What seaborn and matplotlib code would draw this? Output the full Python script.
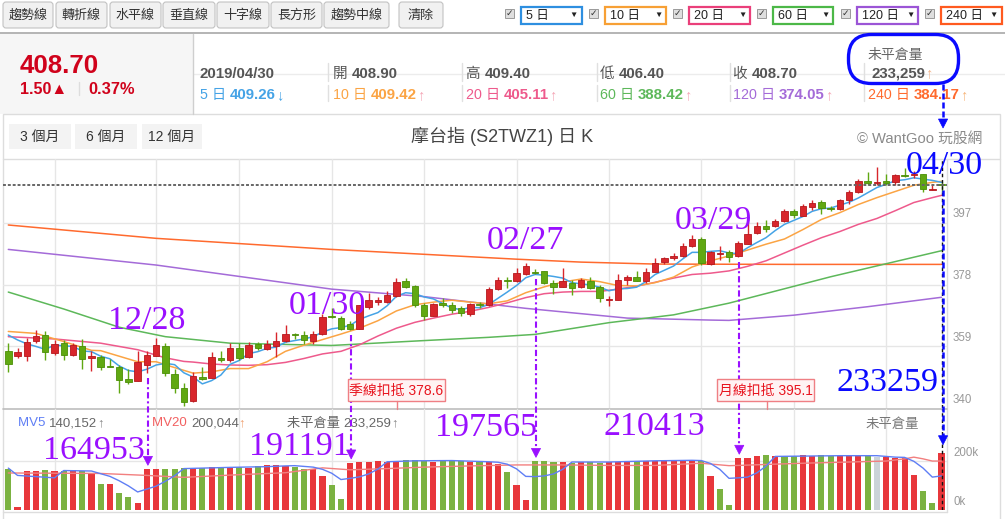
import numpy as np
import matplotlib
matplotlib.use("Agg")
import matplotlib.pyplot as plt
from matplotlib.patches import Rectangle, FancyBboxPatch, Polygon
import seaborn as sns

# ------------------------------------------------------------------ data
# 摩台指 (S2TWZ1) daily candles, index 0 .. 101 (last = 2019/04/30)
opens = [357.7, 356.0, 356.0, 360.6, 362.6, 357.0, 360.0, 356.3, 359.2, 355.4,
         355.7, 353.1, 352.7, 349.1, 348.5, 353.4, 356.2, 359.2, 350.6, 346.2,
         342.1, 349.6, 349.3, 355.4, 354.7, 358.5, 355.7, 359.7, 358.2, 359.0,
         360.8, 362.8, 362.4, 360.7, 362.9, 368.5, 367.6, 365.8, 364.5, 371.2,
         372.5, 372.5, 374.6, 379.1, 377.6, 371.7, 368.5, 372.4, 371.7, 370.7,
         369.0, 372.0, 371.6, 376.7, 379.2, 379.0, 381.2, 382.0, 382.2, 378.4,
         377.4, 378.4, 377.2, 379.2, 377.4, 373.2, 373.3, 379.3, 380.2, 379.0,
         382.0, 384.8, 386.1, 386.8, 389.9, 392.0, 384.3, 387.3, 388.1, 386.9,
         390.6, 393.7, 396.0, 396.0, 397.5, 400.6, 399.1, 401.9, 403.4, 401.6,
         401.1, 403.9, 406.3, 409.8, 409.2, 409.8, 409.6, 411.8, 411.8, 412.1,
         407.0, 408.9]
highs = [360.2, 358.5, 361.6, 364.1, 363.8, 361.1, 361.1, 360.2, 361.3, 357.5,
         356.5, 355.1, 353.4, 352.2, 357.5, 357.5, 361.6, 360.2, 352.2, 347.7,
         351.0, 352.6, 357.3, 357.7, 360.2, 360.0, 360.3, 360.5, 361.0, 363.3,
         365.7, 363.2, 363.7, 363.7, 369.1, 370.8, 368.4, 366.9, 371.8, 375.5,
         374.3, 376.0, 379.9, 380.1, 377.9, 372.2, 372.2, 373.8, 372.7, 371.4,
         372.2, 372.8, 377.4, 380.2, 380.2, 383.0, 384.6, 382.8, 382.2, 379.3,
         383.0, 379.3, 380.0, 380.2, 377.9, 374.4, 381.2, 380.8, 382.2, 383.0,
         386.1, 386.6, 387.8, 390.9, 393.3, 392.5, 388.4, 389.8, 388.6, 391.4,
         397.3, 397.3, 397.8, 398.0, 401.1, 401.1, 402.7, 403.9, 403.9, 402.2,
         404.4, 407.0, 410.3, 412.6, 414.2, 411.9, 411.9, 413.9, 412.8, 412.1,
         408.8, 409.4]
lows = [351.1, 355.4, 354.4, 360.0, 354.7, 356.3, 354.9, 356.0, 352.2, 351.6,
        351.9, 352.6, 344.7, 347.5, 348.3, 350.9, 356.0, 349.8, 344.7, 340.6,
        341.9, 348.8, 349.3, 354.1, 354.1, 354.7, 355.4, 358.0, 357.9, 355.8,
        360.3, 361.4, 359.9, 359.9, 362.6, 367.6, 363.9, 363.9, 364.4, 370.4,
        371.7, 372.2, 374.3, 376.8, 371.0, 367.1, 368.2, 371.2, 369.4, 368.2,
        368.5, 370.9, 371.3, 376.4, 376.9, 378.7, 381.0, 381.2, 378.1, 375.1,
        377.4, 374.9, 376.9, 376.7, 372.8, 371.3, 373.3, 377.9, 379.0, 378.6,
        381.8, 384.4, 385.4, 386.6, 389.5, 384.1, 384.1, 385.5, 385.0, 386.6,
        390.4, 393.5, 394.2, 395.7, 397.2, 398.6, 399.0, 400.9, 399.8, 400.7,
        400.9, 402.6, 406.2, 408.5, 408.5, 408.5, 408.5, 411.1, 410.6, 406.3,
        407.0, 406.4]
closes = [353.6, 357.2, 360.3, 362.3, 357.3, 359.7, 356.3, 359.5, 355.2, 356.2,
          352.6, 352.6, 348.6, 348.1, 354.2, 356.3, 359.5, 350.8, 346.2, 341.9,
          349.8, 349.0, 355.7, 354.7, 358.5, 355.6, 359.5, 358.5, 359.7, 360.7,
          362.9, 362.4, 361.0, 362.8, 368.0, 368.0, 364.3, 364.5, 371.7, 373.3,
          373.3, 374.8, 378.7, 377.4, 371.7, 368.5, 371.9, 371.7, 370.2, 369.2,
          371.9, 371.6, 376.7, 379.5, 379.0, 381.5, 383.8, 381.7, 378.4, 377.2,
          379.0, 376.9, 379.5, 376.9, 373.8, 373.6, 379.5, 380.3, 379.0, 382.0,
          384.6, 386.1, 386.8, 389.9, 392.0, 384.6, 387.9, 387.6, 386.5, 390.9,
          393.5, 396.0, 395.0, 397.5, 400.6, 399.3, 402.1, 403.1, 401.6, 401.3,
          404.1, 406.3, 409.9, 409.2, 409.6, 409.2, 411.6, 411.5, 412.1, 407.5,
          407.2, 408.7]

# 未平倉量 (open interest, thousands) and bar colour code
oi = [165, 12, 159, 159, 162, 159, 159, 162, 159, 151,
      105, 105, 69, 53, 28, 164.953, 166, 166, 166, 169,
      172, 172, 175, 172, 172, 176, 172, 179, 183, 183,
      179, 175, 166, 166, 139, 101, 43, 191.191, 196, 196,
      201, 196, 196, 203, 203, 201, 196, 201, 203, 201,
      196, 196, 196, 187, 155, 101, 39, 197.565, 201, 196,
      194, 192, 194, 194, 192, 196, 196, 199, 199, 201,
      201, 199, 203, 203, 203, 199, 138, 84, 18, 210.413,
      213, 220, 224, 220, 220, 220, 224, 220, 224, 220,
      220, 220, 220, 224, 214, 214, 210, 210, 142, 76,
      28, 233.259]
oi_dir = list("grrrgrgrgr" "grggrrrggg" "rgrgrgrgrr" "rggrrggrrr" "rrrgggrggg"
              "rgrrgrrggg" "rgrggrrrgr" "rrrrrgrggr" "rrgrggrrgg" "rrrgnrrrrg" "gr")

# moving averages (index, value)
ma5 = [362.5, 361.0, 359.8, 359.0, 358.1, 359.4, 359.2, 359.0, 357.6, 357.4,
       356.0, 355.2, 353.0, 351.6, 351.2, 352.0, 353.3, 353.8, 353.4, 350.9,
       349.6, 347.5, 348.5, 350.2, 353.5, 354.7, 356.8, 357.4, 358.4, 358.8,
       360.3, 360.8, 361.3, 362.0, 363.4, 364.4, 364.8, 365.5, 367.3, 368.4,
       369.4, 371.5, 374.4, 375.5, 375.2, 374.2, 373.6, 372.2, 370.8, 370.3,
       371.0, 370.9, 371.9, 373.8, 375.7, 377.7, 380.1, 381.1, 380.9, 380.5,
       380.0, 378.6, 378.2, 377.9, 377.2, 376.1, 376.7, 376.8, 377.2, 378.9,
       381.1, 382.4, 383.7, 385.9, 387.9, 387.9, 388.2, 388.4, 387.7, 387.5,
       389.3, 390.9, 392.4, 394.6, 396.5, 397.7, 398.9, 400.5, 401.3, 401.5,
       402.4, 403.3, 404.6, 406.2, 407.8, 408.8, 409.9, 410.2, 410.8, 410.4,
       410.0, 409.4]
ma10_idx = [0, 3, 6, 9] + list(range(10, 101, 2)) + [101]
ma10 = [363.6, 363.0, 360.5, 357.8,
        357.7, 356.0, 354.3, 354.3, 352.5, 350.8, 351.2, 352.2, 352.2, 354.3,
        357.5, 359.4, 361.1, 362.8, 364.6, 366.9, 369.9, 371.8, 372.6, 373.2,
        372.6, 372.1, 373.0, 375.5, 377.3, 378.8, 379.7, 378.9, 377.7, 377.6,
        378.6, 380.3, 383.4, 385.3, 386.8, 388.6, 390.4, 392.0, 394.9, 398.0,
        400.1, 402.6, 404.7, 406.6, 408.5, 409.4, 409.7]
ma20_idx = [0, 5, 10, 14, 17, 19] + list(range(20, 101, 2)) + [101]
ma20 = [362.0, 361.3, 360.0, 358.0, 355.5, 354.4,
        354.2, 353.6, 353.3, 353.2, 353.4, 354.1, 355.3, 356.7, 357.5, 359.5,
        362.2, 364.6, 366.4, 367.7, 368.9, 369.8, 371.0, 372.4, 374.0, 375.2,
        375.7, 375.9, 375.9, 376.6, 377.5, 378.7, 380.0, 381.1, 381.5, 382.2,
        383.6, 385.3, 387.7, 390.1, 392.4, 394.3, 396.5, 398.3, 400.7, 403.2,
        404.7, 405.4]
ma60_idx = [0, 6, 12, 17, 24, 35, 45, 52, 57, 65, 72, 78, 89, 101]
ma60 = [375.7, 370.5, 364.9, 362.0, 360.0, 359.3, 360.8, 361.8, 362.7, 366.3,
        368.7, 372.3, 380.4, 388.4]
ma120_idx = [0, 16, 25, 35, 45, 56, 67, 76, 78, 85, 93, 101]
ma120 = [388.8, 384.0, 380.5, 376.6, 374.3, 370.7, 367.7, 367.1, 367.0, 368.6,
         371.2, 374.1]
ma240_idx = [0, 16, 35, 55, 62, 70, 85, 101]
ma240 = [396.3, 392.2, 388.8, 385.8, 384.9, 384.3, 384.2, 384.2]

mv5_idx = [0, 1, 5, 6, 9, 10, 11, 12, 13, 14, 15, 16, 17, 18, 19, 20, 24, 28, 30, 31,
           32, 33, 34, 35, 36, 37, 38, 39, 40, 41, 44, 48, 52, 53, 54, 55, 56, 57, 58, 59,
           60, 61, 65, 70, 74, 75, 76, 77, 78, 79, 80, 81, 82, 83, 90, 94, 96, 97, 98, 99,
           100, 101]
mv5 = [170, 140, 130, 160, 158, 147, 136, 118, 97, 72, 84, 96, 116, 139, 168, 169, 173, 176, 179, 180,
       177, 174, 165, 149, 123, 128, 134, 146, 166, 196, 200, 201, 196, 194, 186, 167, 136, 135, 138, 146,
       165, 195, 195, 200, 202, 201, 189, 165, 128, 130, 133, 150, 178, 218, 221, 221, 215, 214, 198, 170,
       133, 138]
mv20_idx = [0, 10, 15, 19, 25, 30, 34, 37, 41, 45, 50, 55, 57, 60, 65, 70, 75, 78, 79, 82,
            86, 90, 95, 97, 98, 99, 100, 101]
mv20 = [150, 148, 140, 132, 143, 151, 171, 163, 168, 174, 179, 183, 183, 183, 181, 181, 190, 180, 181, 185,
        190, 194, 199, 208, 215, 208, 199, 199]

price_ticks = [340, 359, 378, 397]
oi_ticks = [0, 200]
grid_idx = [5, 16, 25, 35, 45, 55, 65, 75, 85, 95]

ann_idx = [15, 37, 57, 79]
ann_dates = ["12/28", "01/30", "02/27", "03/29"]
ann_oi = ["164953", "191191", "197565", "210413"]
last_date, last_oi = "04/30", "233259"
deduct = [(42, "季線扣抵 378.6"), (82, "月線扣抵 395.1")]

# ------------------------------------------------------------------ style
sns.set_theme(style="white")
plt.rcParams['font.family'] = ['Liberation Sans', 'Noto Sans CJK TC', 'DejaVu Sans']
plt.rcParams['axes.unicode_minus'] = False

C5, C10, C20 = '#45a3e6', '#fba444', '#ee5a8c'
C60, C120, C240 = '#5db85a', '#a46bd8', '#ff6a2e'
RED, RED_E = '#d8262c', '#b5171c'
GRN, GRN_E = '#60a812', '#4b8e06'
VRED, VGRN, VGRY = '#e8373b', '#7bb241', '#cbd3d8'
PURP = '#9a10ff'
BLUE = '#0a0aff'

W, H = 1005, 519
fig = plt.figure(figsize=(W / 100, H / 100), dpi=100)
fig.patch.set_facecolor('white')


def add_ax(x0, y0, x1, y1, z=1):
    a = fig.add_axes([x0 / W, 1 - y1 / H, (x1 - x0) / W, (y1 - y0) / H])
    a.set_zorder(z)
    return a


bg = add_ax(0, 0, W, H, z=0)
bg.set_xlim(0, W); bg.set_ylim(H, 0); bg.axis('off')

XL = (-0.574, 101.59)
axp = add_ax(3, 159, 947, 408.3, z=2)
axv = add_ax(3, 409, 947, 509.5, z=2)

fg = add_ax(0, 0, W, H, z=5)
fg.set_xlim(0, W); fg.set_ylim(H, 0); fg.axis('off')

# ------------------------------------------------------------------ toolbar
btns = [("趨勢線", 3, 53), ("轉折線", 56, 107), ("水平線", 110, 161), ("垂直線", 163, 215),
        ("十字線", 217, 269), ("長方形", 271, 322), ("趨勢中線", 324, 389), ("清除", 399, 443)]
for t, x0, x1 in btns:
    bg.add_patch(FancyBboxPatch((x0 + 1.5, 3.5), x1 - x0 - 3, 23,
                                boxstyle="round,pad=1.5,rounding_size=3",
                                fc='#f1f1f1', ec='#c2c2c2', lw=0.8))
    bg.text((x0 + x1) / 2, 15.5, t, ha='center', va='center', fontsize=9.4, color='#333333')

sels = [("5 日", 520.7, 581.7, '#2e8fe0'), ("10 日", 605, 666, '#f7a035'),
        ("20 日", 689, 750, '#ea3f7a'), ("60 日", 772.7, 833, '#4cb848'),
        ("120 日", 856.7, 918, '#9b55d6'), ("240 日", 940.7, 1001.7, '#ff5a1f')]
for t, x0, x1, c in sels:
    bg.add_patch(Rectangle((x0, 6.5), x1 - x0, 17, fc='white', ec=c, lw=1.6))
    bg.text(x0 + 5, 15.5, t, va='center', ha='left', fontsize=9, color='#222222')
    bg.text(x1 - 8, 15.5, '▼', ha='center', va='center', fontsize=6, color='#222222')
    cx = x0 - 16
    bg.add_patch(Rectangle((cx, 8.5), 9, 9, fc='#dedede', ec='#9a9a9a', lw=0.7))
    bg.text(cx + 4.5, 13, '✓', ha='center', va='center', fontsize=6.5, color='#333333',
            family='DejaVu Sans', fontweight='bold')
bg.plot([0, W], [33.3, 33.3], color='#a8a8a8', lw=1.2)

# ------------------------------------------------------------------ info panel
bg.add_patch(Rectangle((0, 34), 193, 79.5, fc='#f6f6f6', ec='none'))
bg.plot([193, 193], [34, 113.5], color='#cfcfcf', lw=1)
bg.plot([193, W], [74, 74], color='#ececec', lw=1, zorder=0.5)
bg.text(20, 73.2, "408.70", fontsize=18.6, fontweight='bold', color='#d0021b', va='baseline')
bg.text(20, 94.2, "1.50▲", fontsize=11.5, fontweight='bold', color='#d0021b', va='baseline')
bg.plot([78.5, 78.5], [82, 95], color='#dddddd', lw=1)
bg.text(88, 94.2, "0.37%", fontsize=11.8, fontweight='bold', color='#d0021b', va='baseline')


def chain(ax, x, y, parts):
    t, c, w, s = parts[0]
    prev = ax.text(x, y, t, color=c, fontweight=w, fontsize=s, va='baseline', ha='left', zorder=3)
    for t, c, w, s in parts[1:]:
        prev = ax.annotate(t, xy=(1, 0), xycoords=prev, color=c, fontweight=w,
                           fontsize=s, va='bottom', ha='left', zorder=3)
    return prev


GREY = '#555555'
cols = [200, 333, 466, 600, 733, 868]
chain(bg, cols[0], 78.2, [("2019/04/30", GREY, 'bold', 10.8)])
for xx, lab, val in [(cols[1], "開 ", "408.90"), (cols[2], "高 ", "409.40"),
                     (cols[3], "低 ", "406.40"), (cols[4], "收 ", "408.70")]:
    chain(bg, xx, 78.2, [(lab, GREY, 'normal', 10.5), (val, GREY, 'bold', 10.8)])
bg.text(cols[5], 55, "未平倉量", fontsize=10, color='#666666', va='center', ha='left')
chain(bg, cols[5] + 3.5, 77.2, [("233,259", GREY, 'bold', 10.8), ("↑", '#f2b48a', 'normal', 10.5)])

row2 = [("5 日 ", "409.26", "↓", C5, C5), ("10 日 ", "409.42", "↑", C10, '#f5a6b6'),
        ("20 日 ", "405.11", "↑", C20, '#f5a6b6'), ("60 日 ", "388.42", "↑", C60, '#f5a6b6'),
        ("120 日 ", "374.05", "↑", C120, '#f5a6b6'), ("240 日 ", "384.17", "↑", C240, '#f6b57a')]
for xx, (lab, val, arr, c, ac) in zip(cols, row2):
    chain(bg, xx, 98.8, [(lab, c, 'normal', 10.3), (val, c, 'bold', 10.8), (arr, ac, 'normal', 10.5)])
for xs in [328, 461.5, 596.5, 730, 863.5]:
    bg.plot([xs, xs], [63, 81], color='#e0e0e0', lw=1)
    bg.plot([xs, xs], [85, 101], color='#e0e0e0', lw=1)

fg.add_patch(FancyBboxPatch((848.5, 34.5), 110, 49, boxstyle="round,pad=0,rounding_size=23",
                            fc='none', ec=BLUE, lw=2.4))

# ------------------------------------------------------------------ chart frame
bg.add_patch(Rectangle((3, 113.5), 997, 406, fc='none', ec='#dddddd', lw=1))
bg.plot([3, 1000], [159, 159], color='#dddddd', lw=1)
for t, x0, x1 in [("3 個月", 9.3, 70.7), ("6 個月", 75, 136.7), ("12 個月", 141.7, 202.3)]:
    bg.add_patch(Rectangle((x0, 124), x1 - x0, 25, fc='#f3f3f3', ec='none'))
    bg.text((x0 + x1) / 2, 136.5, t, ha='center', va='center', fontsize=10, color='#333333')
bg.text(502.5, 136.7, "摩台指 (S2TWZ1) 日 K", ha='center', va='center', fontsize=13, color='#444444')
bg.text(982, 139.3, "© WantGoo 玩股網", ha='right', va='center', fontsize=10.6, color='#8a8a8a')
bg.plot([947, 947], [159, 512], color='#dddddd', lw=1)
bg.plot([3, 947], [409, 409], color='#bdbdbd', lw=1.2)
bg.plot([3, 947], [511.5, 511.5], color='#dddddd', lw=1)

# ------------------------------------------------------------------ price pane
idx = np.arange(len(closes))
o, c, h, l = map(np.array, (opens, closes, highs, lows))
up = c >= o
ccol = np.where(up, RED, GRN)
ecol = np.where(up, RED_E, GRN_E)

for v in price_ticks[1:]:
    axp.axhline(v, color='#e6e6e6', lw=1, zorder=0)
for g in grid_idx:
    axp.axvline(g, color='#e6e6e6', lw=1, zorder=0)
    axv.axvline(g, color='#e6e6e6', lw=1, zorder=0)
axv.axhline(200, color='#e6e6e6', lw=1, zorder=0)

for xi, yv, colr in [(ma240_idx, ma240, C240), (ma120_idx, ma120, C120), (ma60_idx, ma60, C60),
                     (ma20_idx, ma20, C20), (ma10_idx, ma10, C10), (list(idx), ma5, C5)]:
    sns.lineplot(x=xi, y=yv, ax=axp, color=colr, linewidth=1.1, zorder=2)

axp.vlines(idx, l, h, colors=ccol, lw=1.0, zorder=3)
axp.bar(idx, np.maximum(np.abs(c - o), 0.3), bottom=np.minimum(o, c), width=0.7,
        color=ccol, edgecolor=ecol, linewidth=0.6, zorder=4)
axp.axhline(closes[-1], color='#666666', lw=1.4, dashes=(1.5, 1.0), zorder=5)
axp.axvline(idx[-1], color='#111111', lw=1.0, dashes=(2.5, 2), zorder=5)

# ------------------------------------------------------------------ open interest pane
vcmap = {'r': VRED, 'g': VGRN, 'n': VGRY}
axv.bar(idx, oi, width=0.66, color=[vcmap[d] for d in oi_dir], linewidth=0, zorder=3)
sns.lineplot(x=mv20_idx, y=mv20, ax=axv, color='#f27f7f', linewidth=1.0, zorder=4)
sns.lineplot(x=mv5_idx, y=mv5, ax=axv, color='#5f7ef5', linewidth=1.0, zorder=4)
axv.axvline(idx[-1], color='#111111', lw=1.0, dashes=(2.5, 2), zorder=5)

for a in (axp, axv):
    a.set_facecolor('none')
    a.set_xlim(*XL)
    for s in a.spines.values():
        s.set_visible(False)
    a.set_xticks([]); a.set_yticks([])
    a.set_xlabel(''); a.set_ylabel('')
axp.set_ylim(340, 416.57)
axv.set_ylim(0, 412.7)

for v in price_ticks:
    axp.annotate(f"{v}", xy=(1, v), xycoords=('axes fraction', 'data'), xytext=(6, 8.4),
                 textcoords='offset pixels', va='center', ha='left', fontsize=8.3,
                 color='#999999', annotation_clip=False)
for v in oi_ticks:
    axv.annotate(f"{v}k", xy=(1, v), xycoords=('axes fraction', 'data'), xytext=(6, 7.8),
                 textcoords='offset pixels', va='center', ha='left', fontsize=8.3,
                 color='#999999', annotation_clip=False)

chain(fg, 18, 426.5, [("MV5 ", '#5f7ef5', 'normal', 9.5), ("140,152", '#666666', 'normal', 9.5),
                      ("↑", '#888888', 'normal', 9.5)])
chain(fg, 152.5, 426.5, [("MV20 ", '#f26060', 'normal', 9.5), ("200,044", '#666666', 'normal', 9.5),
                         ("↑", '#f0a070', 'normal', 9.5)])
chain(fg, 287, 426.5, [("未平倉量 ", '#666666', 'normal', 9.5), ("233,259", '#666666', 'normal', 9.5),
                       ("↑", '#888888', 'normal', 9.5)])
fg.text(865, 425, "未平倉量", fontsize=9.6, color='#777777', va='center', ha='left')


# ------------------------------------------------------------------ annotations
def to_fg(ax, x, y):
    return fg.transData.inverted().transform(ax.transData.transform((x, y)))


def dashed_arrow(x, y0, y1, colr, dashes, lw):
    fg.plot([x, x], [y0, y1 - 8], color=colr, lw=lw, dashes=dashes, solid_capstyle='butt', zorder=6)
    fg.add_patch(Polygon([[x - 4.6, y1 - 9], [x + 4.6, y1 - 9], [x, y1]], closed=True,
                         fc=colr, ec=colr, lw=0.5, zorder=6))


SERIF = dict(family='Liberation Serif', fontsize=24.5, va='baseline', ha='center', zorder=7)
BASE = 11.3
date_off = [(0, 318), (-23, 303), (-10, 238), (-25, 217.5)]
oi_off = [(-53, 447.5), (-51, 444), (-49, 425), (-84, 423.5)]
for k, i in enumerate(ann_idx):
    x = to_fg(axp, i, 0)[0]
    y_start = to_fg(axp, i, lows[i])[1] + 5
    y_tip = to_fg(axv, i, oi[i])[1] - 4
    dashed_arrow(x + 1, y_start, y_tip, PURP, (3, 1.4, 1, 1.4), 1.5)
    fg.text(x + date_off[k][0], date_off[k][1] + BASE, ann_dates[k], color=PURP, **SERIF)
    fg.text(x + oi_off[k][0], oi_off[k][1] + BASE, ann_oi[k], color=PURP, **SERIF)

xl = to_fg(axp, idx[-1], 0)[0] + 1.5
dashed_arrow(xl, 84, 128, BLUE, (2.4, 1.2), 1.8)
dashed_arrow(xl, 190, to_fg(axv, idx[-1], oi[-1])[1] - 8, BLUE, (2.4, 1.2), 1.8)
fg.text(xl + 1, 163 + BASE, last_date, color=BLUE, **SERIF)
fg.text(xl - 56, 380 + BASE, last_oi, color=BLUE, **SERIF)

for i, t in deduct:
    x = to_fg(axp, i, 0)[0]
    fg.add_patch(Rectangle((x - 48.5, 379), 97, 22, fc='#fff3f3', ec='#ef7f84', lw=1, zorder=6))
    fg.text(x, 390.5, t, ha='center', va='center', fontsize=10, color='#e8141e', zorder=7)
    fg.plot([x + 1, x + 1], [401, 409], color='#ef7f84', lw=1, zorder=6)

fig.savefig('out.png', dpi=100)
